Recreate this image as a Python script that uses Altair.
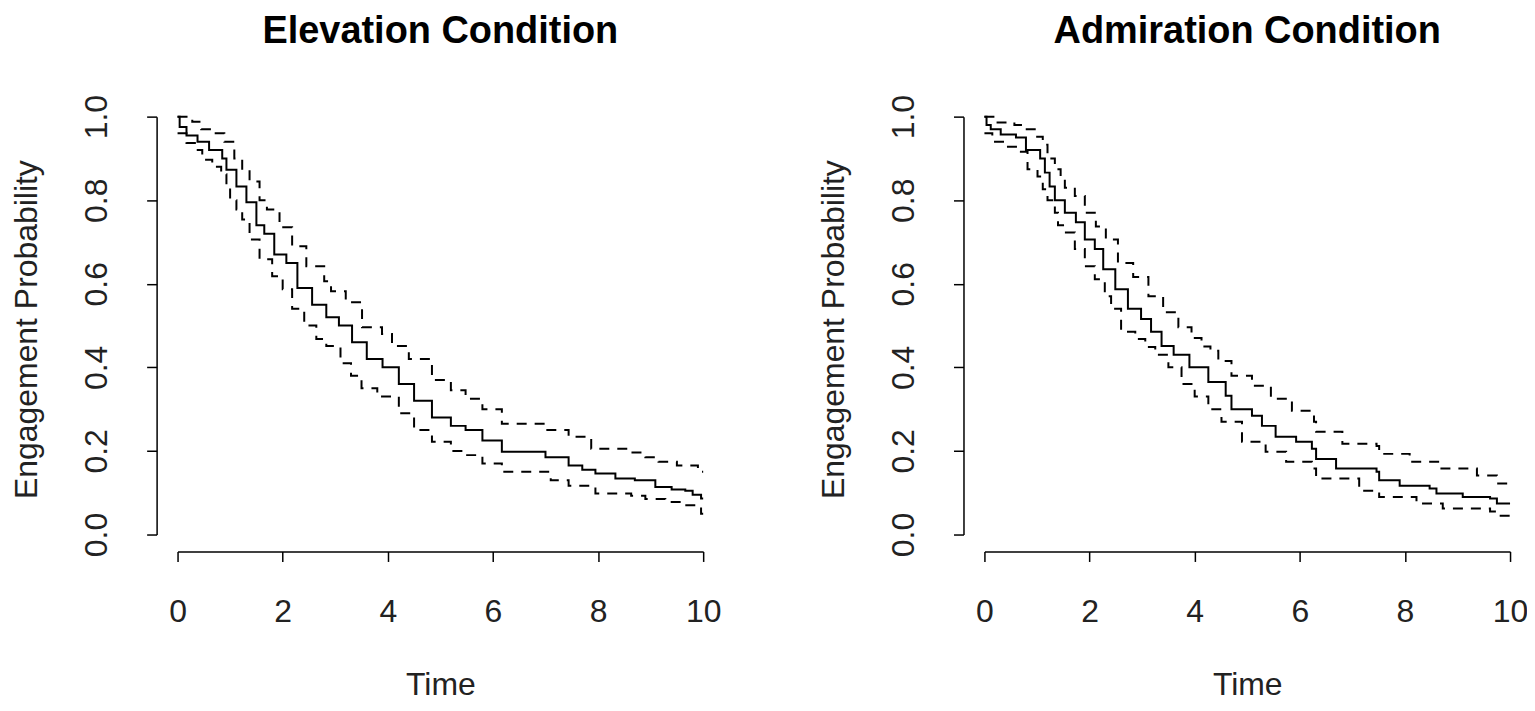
import altair as alt
import pandas as pd

# ---- Elevation condition ----
elev_est_t = [0, 0.04, 0.17, 0.38, 0.6, 0.85, 0.93, 1.12, 1.31, 1.5, 1.65, 1.84, 2.07, 2.28, 2.56, 2.83, 3.07, 3.32, 3.6, 3.9, 4.21, 4.5, 4.84, 5.2, 5.48, 5.8, 6.17, 7.0, 7.44, 7.7, 7.95, 8.33, 8.7, 9.09, 9.4, 9.66, 9.8, 9.96, 10]
elev_est_s = [1.0, 0.975, 0.955, 0.94, 0.92, 0.9, 0.873, 0.833, 0.795, 0.74, 0.72, 0.67, 0.65, 0.59, 0.55, 0.52, 0.5, 0.46, 0.42, 0.40, 0.36, 0.32, 0.28, 0.26, 0.25, 0.225, 0.198, 0.185, 0.165, 0.155, 0.146, 0.134, 0.13, 0.114, 0.108, 0.105, 0.095, 0.086, 0.086]
elev_hi_t = [0, 0.28, 0.45, 0.7, 0.89, 1.08, 1.23, 1.37, 1.56, 1.7, 1.94, 2.18, 2.45, 2.79, 2.92, 3.2, 3.51, 3.89, 4.08, 4.4, 4.84, 5.2, 5.48, 5.8, 6.17, 7.0, 7.44, 7.87, 8.63, 8.9, 9.15, 9.5, 9.9, 10]
elev_hi_s = [1.0, 0.988, 0.97, 0.96, 0.94, 0.9, 0.873, 0.845, 0.8, 0.778, 0.735, 0.69, 0.642, 0.606, 0.582, 0.556, 0.496, 0.48, 0.451, 0.42, 0.37, 0.345, 0.325, 0.3, 0.265, 0.25, 0.234, 0.205, 0.196, 0.185, 0.174, 0.165, 0.15, 0.15]
elev_lo_t = [0, 0.17, 0.36, 0.47, 0.66, 0.83, 0.93, 1.0, 1.12, 1.23, 1.37, 1.56, 1.8, 2.0, 2.18, 2.41, 2.64, 2.83, 3.1, 3.3, 3.5, 3.8, 4.21, 4.5, 4.84, 5.2, 5.48, 5.8, 6.17, 7.1, 7.44, 7.95, 8.63, 8.9, 9.28, 9.6, 9.96, 10]
elev_lo_s = [0.96, 0.937, 0.92, 0.897, 0.88, 0.862, 0.833, 0.8, 0.778, 0.754, 0.706, 0.659, 0.618, 0.587, 0.54, 0.5, 0.468, 0.451, 0.41, 0.38, 0.35, 0.33, 0.29, 0.25, 0.222, 0.2, 0.19, 0.17, 0.15, 0.13, 0.117, 0.098, 0.093, 0.085, 0.078, 0.07, 0.05, 0.05]

# ---- Admiration condition ----
adm_est_t = [0, 0.04, 0.12, 0.31, 0.6, 0.79, 1.06, 1.15, 1.24, 1.34, 1.53, 1.74, 1.91, 2.1, 2.26, 2.49, 2.73, 2.98, 3.17, 3.37, 3.6, 3.9, 4.26, 4.59, 4.7, 5.09, 5.28, 5.54, 5.93, 6.23, 6.31, 6.69, 7.46, 7.51, 7.9, 8.47, 8.6, 9.1, 9.62, 9.75, 10]
adm_est_s = [1.0, 0.98, 0.97, 0.957, 0.95, 0.92, 0.9, 0.866, 0.833, 0.8, 0.77, 0.747, 0.706, 0.683, 0.635, 0.587, 0.54, 0.516, 0.485, 0.451, 0.43, 0.4, 0.365, 0.332, 0.3, 0.284, 0.26, 0.234, 0.222, 0.205, 0.181, 0.158, 0.15, 0.13, 0.117, 0.11, 0.098, 0.09, 0.086, 0.074, 0.074]
adm_hi_t = [0, 0.25, 0.57, 0.76, 0.98, 1.11, 1.2, 1.34, 1.45, 1.53, 1.72, 1.91, 2.12, 2.31, 2.54, 2.83, 3.12, 3.4, 3.69, 3.94, 4.13, 4.3, 4.45, 4.7, 5.09, 5.45, 5.85, 6.27, 6.31, 6.81, 7.46, 7.51, 8.09, 8.66, 9.37, 9.75, 10]
adm_hi_s = [1.0, 0.986, 0.98, 0.97, 0.952, 0.933, 0.9, 0.874, 0.853, 0.83, 0.81, 0.77, 0.737, 0.706, 0.65, 0.616, 0.57, 0.532, 0.496, 0.47, 0.45, 0.44, 0.415, 0.38, 0.356, 0.325, 0.296, 0.27, 0.246, 0.217, 0.212, 0.193, 0.174, 0.158, 0.141, 0.122, 0.122]
adm_lo_t = [0, 0.15, 0.38, 0.6, 0.82, 1.01, 1.11, 1.2, 1.34, 1.4, 1.53, 1.72, 1.91, 2.1, 2.29, 2.41, 2.6, 2.87, 3.06, 3.25, 3.5, 3.75, 4.0, 4.26, 4.51, 4.9, 5.35, 5.74, 6.23, 6.31, 7.13, 7.51, 8.22, 8.72, 9.62, 9.75, 10]
adm_lo_s = [0.96, 0.94, 0.928, 0.916, 0.874, 0.857, 0.826, 0.8, 0.77, 0.74, 0.723, 0.683, 0.642, 0.611, 0.57, 0.54, 0.485, 0.468, 0.449, 0.43, 0.40, 0.36, 0.33, 0.3, 0.27, 0.222, 0.198, 0.174, 0.158, 0.134, 0.105, 0.09, 0.074, 0.062, 0.055, 0.045, 0.045]

titles = ["Elevation Condition", "Admiration Condition"]
x_ticks = [0, 2, 4, 6, 8, 10]
y_ticks = [0.0, 0.2, 0.4, 0.6, 0.8, 1.0]


def frame(pairs):
    rows = []
    for name, ts, ss in pairs:
        for t, s in zip(ts, ss):
            rows.append({"t": t, "s": s, "curve": name})
    return pd.DataFrame(rows)


FONT = "Liberation Sans"


def panel(df, title):
    x = alt.X("t:Q", scale=alt.Scale(domain=[0, 10], nice=False, zero=False),
              axis=alt.Axis(values=x_ticks, format="d", title="Time", offset=17,
                            tickSize=10, labelPadding=35, labelFontSize=32,
                            labelFlush=False,
                            titleFontSize=32, titleFontWeight="normal",
                            titleBaseline="alphabetic", titleY=143,
                            grid=False))
    y = alt.Y("s:Q", scale=alt.Scale(domain=[0, 1], nice=False, zero=False),
              axis=alt.Axis(values=y_ticks, format=".1f", title="Engagement Probability",
                            offset=21, tickSize=10, labelPadding=40, labelFontSize=32,
                            labelFlush=False,
                            labelAngle=270, labelAlign="center", labelBaseline="alphabetic",
                            titleFontSize=32, titleFontWeight="normal", titleAngle=270,
                            titleAlign="center", titleBaseline="alphabetic",
                            titleX=-120, titleY=213, grid=False))
    base = alt.Chart(df).encode(x=x, y=y)
    ci = base.transform_filter(alt.datum.curve != "est").mark_line(
        interpolate="step-after", color="black", strokeWidth=2, strokeDash=[10, 8]
    ).encode(detail="curve:N")
    est = base.transform_filter(alt.datum.curve == "est").mark_line(
        interpolate="step-after", color="black", strokeWidth=2
    )
    return alt.layer(ci, est).properties(
        width=527, height=419,
        title=alt.TitleParams(text=title, fontSize=38, fontWeight="bold", font=FONT,
                              anchor="middle", frame="group", baseline="alphabetic",
                              offset=14, color="black"),
    )


left = panel(frame([("est", elev_est_t, elev_est_s), ("hi", elev_hi_t, elev_hi_s),
                    ("lo", elev_lo_t, elev_lo_s)]), titles[0])
right = panel(frame([("est", adm_est_t, adm_est_s), ("hi", adm_hi_t, adm_hi_s),
                     ("lo", adm_lo_t, adm_lo_s)]), titles[1])

chart = alt.hconcat(left, right, spacing=282, bounds="flush").properties(
    padding={"left": 2, "top": 3, "right": -2, "bottom": 0},
    background="white",
).configure_view(stroke="transparent").configure_axis(
    domainColor="black", tickColor="black", labelColor="#222222", titleColor="#222222",
    labelFont=FONT, titleFont=FONT, domainWidth=1.5, tickWidth=1.5
)

chart.save("out.html", embed_options={"renderer": "svg", "actions": False})
